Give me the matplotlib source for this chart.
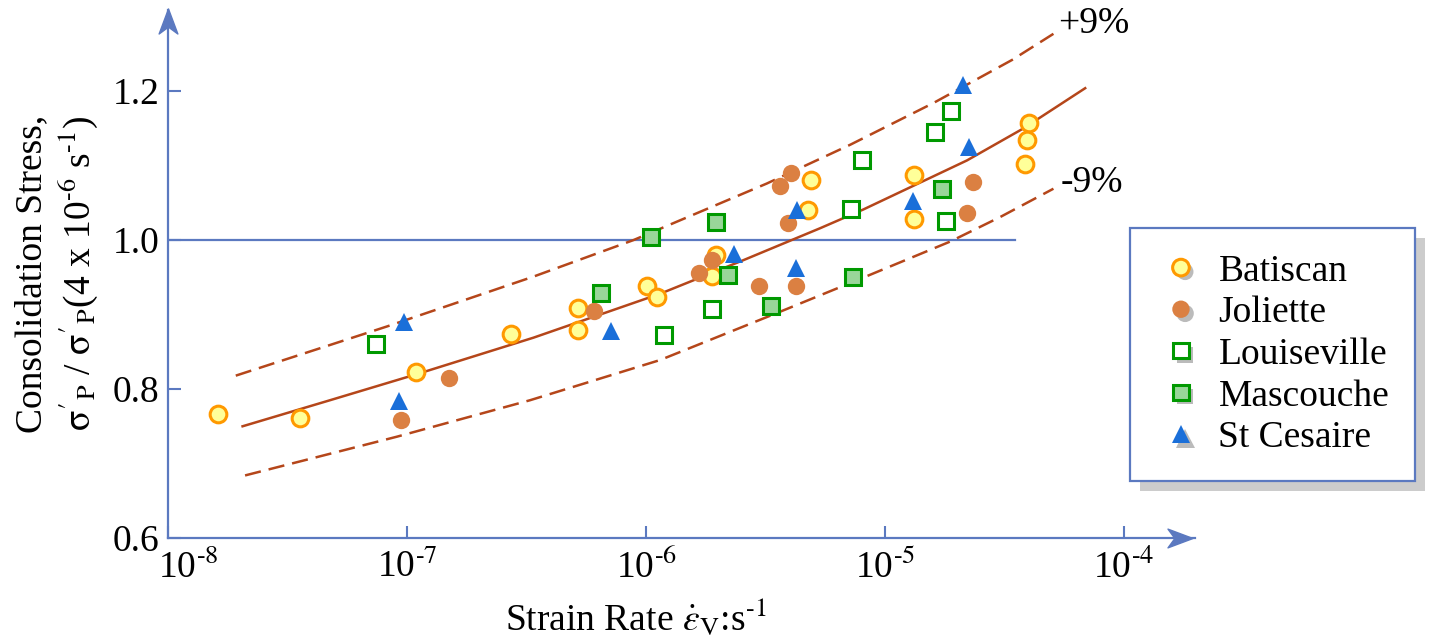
import matplotlib
matplotlib.use("Agg")
import matplotlib.pyplot as plt
import matplotlib.patheffects as pe
import matplotlib.transforms as mtransforms
from matplotlib.lines import Line2D
from matplotlib.path import Path

plt.rcParams["font.family"] = ["Liberation Serif", "DejaVu Serif"]
plt.rcParams["mathtext.fontset"] = "stix"

AXIS_BLUE = "#5b79c0"
CURVE = "#b5461a"
FS = 27

# ---- data ----
bat_x = [1.62e-8, 3.56e-8, 1.09e-7, 2.72e-7, 5.19e-7, 5.19e-7, 1.01e-6, 1.11e-6,
         1.96e-6, 1.89e-6, 4.89e-6, 4.75e-6, 1.32e-5, 1.32e-5, 4.01e-5, 3.91e-5, 3.84e-5]
bat_y = [0.766, 0.761, 0.823, 0.874, 0.909, 0.879, 0.939, 0.923,
         0.980, 0.952, 1.081, 1.040, 1.088, 1.028, 1.157, 1.134, 1.102]

jol_x = [9.44e-8, 1.50e-7, 6.08e-7, 1.67e-6, 1.88e-6, 2.97e-6, 3.62e-6, 4.02e-6,
         3.92e-6, 4.22e-6, 2.33e-5, 2.20e-5]
jol_y = [0.759, 0.815, 0.905, 0.956, 0.973, 0.938, 1.073, 1.090,
         1.023, 0.938, 1.078, 1.037]

lou_x = [7.40e-8, 1.19e-6, 1.89e-6, 8.00e-6, 7.22e-6, 1.61e-5, 1.88e-5, 1.80e-5]
lou_y = [0.861, 0.872, 0.907, 1.108, 1.042, 1.145, 1.173, 1.025]

mas_x = [6.45e-7, 1.05e-6, 1.96e-6, 2.20e-6, 3.33e-6, 7.36e-6, 1.73e-5]
mas_y = [0.929, 1.004, 1.024, 0.953, 0.912, 0.950, 1.069]

stc_x = [9.26e-8, 9.70e-8, 7.16e-7, 2.34e-6, 4.25e-6, 4.28e-6, 1.31e-5, 2.11e-5, 2.24e-5]
stc_y = [0.784, 0.890, 0.878, 0.982, 0.962, 1.040, 1.052, 1.208, 1.125]

# trend curve and +/-9% bands
fit_x = [2.05e-8, 4.76e-8, 1.098e-7, 3.38e-7, 1.145e-6, 2.55e-6, 5.35e-6, 8.09e-6,
         2.20e-5, 3.79e-5, 6.87e-5]
fit_y = [0.750, 0.785, 0.820, 0.869, 0.928, 0.973, 1.016, 1.041,
         1.107, 1.150, 1.204]
up_x = [1.92e-8, 8.23e-8, 3.38e-7, 8.85e-7, 3.20e-6, 7.14e-6, 1.59e-5, 3.40e-5, 5.06e-5]
up_y = [0.818, 0.884, 0.951, 1.000, 1.076, 1.128, 1.184, 1.242, 1.277]
lo_x = [2.10e-8, 9.06e-8, 3.27e-7, 1.145e-6, 3.52e-6, 7.61e-6, 1.87e-5, 3.03e-5, 5.06e-5]
lo_y = [0.684, 0.736, 0.785, 0.839, 0.902, 0.946, 0.998, 1.031, 1.069]

ref_x = [1e-8, 3.5e-5]
ref_y = [1.0, 1.0]

x_ticks = [1e-8, 1e-7, 1e-6, 1e-5, 1e-4]
x_ticklabels = [r"10$^{\text{-8}}$", r"10$^{\text{-7}}$", r"10$^{\text{-6}}$",
                r"10$^{\text{-5}}$", r"10$^{\text{-4}}$"]
y_ticks = [0.6, 0.8, 1.0, 1.2]
y_ticklabels = ["0.6", "0.8", "1.0", "1.2"]

SERIES = [
    ("Batiscan", bat_x, bat_y, dict(marker="o", ms=12, mfc="#ffff99", mec="#ff9900", mew=2.2)),
    ("Joliette", jol_x, jol_y, dict(marker="o", ms=12.5, mfc="#db8042", mec="#db8042", mew=0)),
    ("Louiseville", lou_x, lou_y, dict(marker="s", ms=11, mfc="white", mec="#009900", mew=2.2)),
    ("Mascouche", mas_x, mas_y, dict(marker="s", ms=11, mfc="#99d699", mec="#009900", mew=2.2)),
    ("St Cesaire", stc_x, stc_y, dict(marker="^", ms=13.5, mfc="#1a6fd9", mec="#1a6fd9", mew=0)),
]

fig = plt.figure(figsize=(14.29, 6.44), dpi=100)
ax = fig.add_axes([0.1176, 0.1646, 0.7187, 0.8199])
ax.set_xscale("log")
ax.set_xlim(1e-8, 1.98e-4)
ax.set_ylim(0.6, 1.309)

ax.plot(ref_x, ref_y, color=AXIS_BLUE, lw=1.6, zorder=1)
ax.plot(fit_x, fit_y, color=CURVE, lw=1.8, zorder=2)
ax.plot(up_x, up_y, color=CURVE, lw=1.8, dashes=(6.5, 3.2), zorder=2)
ax.plot(lo_x, lo_y, color=CURVE, lw=1.8, dashes=(6.5, 3.2), zorder=2)

handles = []
for name, xs, ys, st in SERIES:
    ax.plot(xs, ys, ls="none", zorder=3, **st)
    h = Line2D([], [], ls="none", label=name, **st)
    h.set_path_effects([pe.SimplePatchShadow(offset=(3, -3), shadow_rgbFace="#bbbbbb", alpha=1),
                        pe.Normal()])
    handles.append(h)

ax.text(7.48e-5, 1.29, "+9%", fontsize=FS, ha="center", va="center")
ax.text(7.34e-5, 1.0765, "-9%", fontsize=FS, ha="center", va="center")

# axes styling
for s in ("top", "right"):
    ax.spines[s].set_visible(False)
for s in ("left", "bottom"):
    ax.spines[s].set_color(AXIS_BLUE)
    ax.spines[s].set_linewidth(1.6)
ax.set_xticks(x_ticks)
ax.set_xticklabels(x_ticklabels)
ax.set_yticks(y_ticks)
ax.set_yticklabels(y_ticklabels)
ax.minorticks_off()
ax.tick_params(direction="in", length=9, width=1.5, color=AXIS_BLUE, labelsize=FS,
               labelcolor="black")
ax.tick_params(axis="x", pad=8)
ax.tick_params(axis="y", pad=6)

# first x label sits to the right of the tick, clear of "0.6"
lab0 = ax.get_xticklabels()[0]
lab0.set_transform(lab0.get_transform() + mtransforms.ScaledTranslation(20 / 100, 0, fig.dpi_scale_trans))

# arrow heads at the axis ends
head_r = Path([(1, 0), (-1, 0.75), (-0.45, 0), (-1, -0.75), (1, 0)],
              [Path.MOVETO, Path.LINETO, Path.LINETO, Path.LINETO, Path.CLOSEPOLY])
head_u = Path([(0, 1), (0.75, -1), (0, -0.45), (-0.75, -1), (0, 1)],
              [Path.MOVETO, Path.LINETO, Path.LINETO, Path.LINETO, Path.CLOSEPOLY])
ax.plot([0.985], [0], marker=head_r, ms=18, color=AXIS_BLUE, transform=ax.transAxes,
        clip_on=False, zorder=5)
ax.plot([0], [0.98], marker=head_u, ms=18, color=AXIS_BLUE, transform=ax.transAxes,
        clip_on=False, zorder=5)

fig.text(0.445, 0.040, r"Strain Rate $\dot{\varepsilon}_{\mathrm{V}}$:s$^{\text{-1}}$",
         fontsize=FS, ha="center", va="center")
fig.text(0.040, 0.575,
         "Consolidation Stress,\n"
         r"$\mathrm{\sigma}'_{\mathrm{P}}$ / $\mathrm{\sigma}'_{\mathrm{P}}$(4 x 10$^{\text{-6}}$ s$^{\text{-1}}$)",
         fontsize=FS, rotation=90, ha="center", va="center", multialignment="center")

leg = fig.legend(handles=handles, loc="upper left", bbox_to_anchor=(0.791, 0.646),
                 fontsize=FS, frameon=True, fancybox=False, borderpad=0.7,
                 handlelength=1.3, handletextpad=0.35, labelspacing=0.19, borderaxespad=0,
                 shadow={"ox": 7, "oy": -7, "facecolor": "#cccccc", "edgecolor": "none", "alpha": 1})
leg.get_frame().set_edgecolor(AXIS_BLUE)
leg.get_frame().set_linewidth(1.6)

fig.savefig("out.png", dpi=100, facecolor="white")
